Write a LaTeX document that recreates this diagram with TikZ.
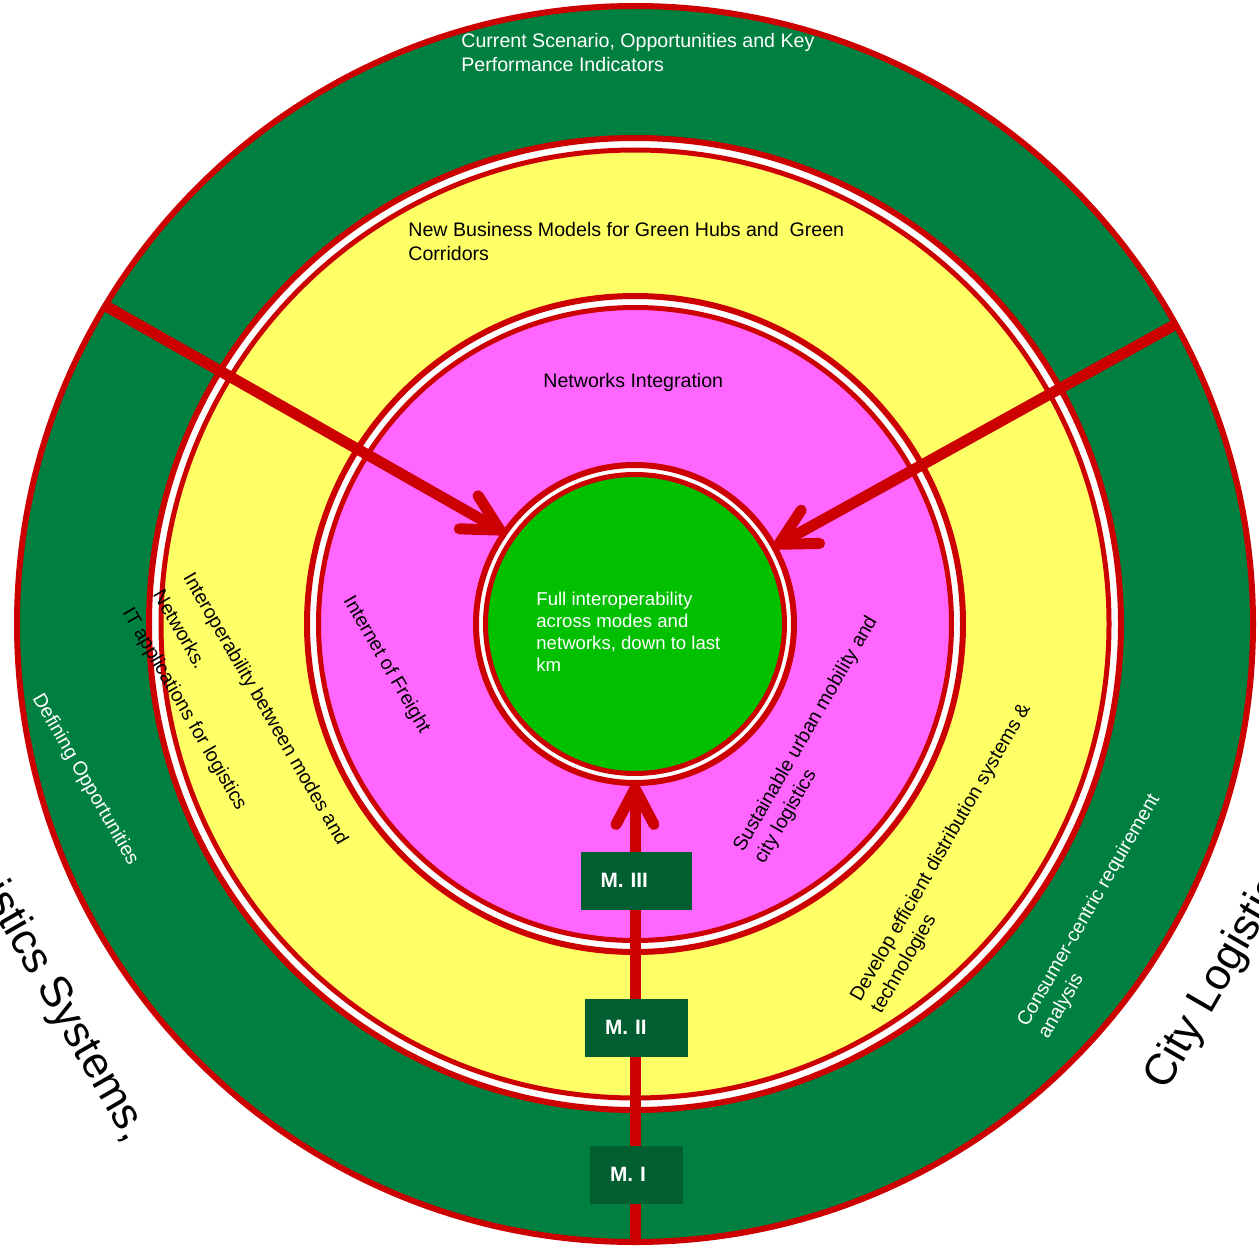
\documentclass[tikz,border=0pt]{standalone}
\usepackage{fontspec}
\setmainfont{Liberation Sans}
\usetikzlibrary{positioning, arrows.meta, calc}

\definecolor{ringred}{RGB}{204,0,0}
\definecolor{outergreen}{RGB}{0,128,64}
\definecolor{hubyellow}{RGB}{255,255,102}
\definecolor{netpink}{RGB}{255,102,255}
\definecolor{coregreen}{RGB}{0,192,0}
\definecolor{boxgreen}{RGB}{0,94,48}

\begin{document}
\begin{tikzpicture}[ x = 0.5pt, y = -0.5pt
                   , >={Straight Barb[length=18pt, width=19pt, round]}
                   , ring/.style = { circle, draw = ringred, inner sep = 0pt, outer sep = 0pt }
                   , rim/.style = { ring, line width = 3pt, fill = white }
                   , disc/.style = { ring, line width = 2.5pt }
                   , txt/.style = { inner sep = 0pt, align = left
                                  , font = \fontsize{9.8}{12}\selectfont }
                   , big/.style = { inner sep = 0pt, font = \fontsize{22}{26}\selectfont }
                   , flow/.style = { ->, draw = ringred, line width = 5.5pt }
                   , mlabel/.style = { fill = boxgreen, text = white, align = left
                                     , inner xsep = 10pt, inner ysep = 0pt
                                     , minimum height = 29pt
                                     , font = \fontsize{10.4}{12}\selectfont\bfseries }
                   ]

  \useasboundingbox (0,0) rectangle (1259,1247);
  \clip (0,0) rectangle (1259,1247);
  \fill[white] (0,0) rectangle (1259,1247);

  \node (outer) [ring, line width = 3pt, fill = outergreen, minimum size = 618pt] at (635,624) {};
  \node (hubsrim) [rim, minimum size = 486pt] at (outer.center) {};
  \node (hubs) [disc, fill = hubyellow, minimum size = 474pt] at (outer.center) {};
  \node (netrim) [rim, minimum size = 328pt] at (outer.center) {};
  \node (net) [disc, fill = netpink, minimum size = 316.5pt] at (outer.center) {};
  \node (corerim) [rim, minimum size = 159pt] at (outer.center) {};
  \node (core) [disc, fill = coregreen, minimum size = 149.5pt] at (outer.center) {};

  \node (scenario) [txt, text = white, anchor = base west] at (461,72)
    {Current Scenario, Opportunities and Key\\Performance Indicators};
  \node (models) [txt, anchor = base west] at (408,260)
    {New Business Models for Green Hubs and\ \ Green\\Corridors};
  \node (integration) [txt, anchor = base west] at (543,387) {Networks Integration};
  \node (interop) [txt, text = white, anchor = base west, font = \fontsize{9.3}{11}\selectfont] at (536,671)
    {Full interoperability\\across modes and\\networks, down to last\\km};

  \node (defining) [txt, text = white, rotate = -60, anchor = base west] at (32,698) {Defining Opportunities};
  \node (modes) [txt, rotate = -60, anchor = base west, font = \fontsize{9.8}{17.5}\selectfont] at (122,612)
    {Interoperability between modes and\\Networks.\\IT applications for logistics};
  \node (freight) [txt, rotate = -60, anchor = base west] at (343,600) {Internet of Freight};
  \node (urban) [txt, rotate = 60, anchor = base west] at (764,865)
    {Sustainable urban mobility and\\city logistics};
  \node (distribution) [txt, rotate = 60, anchor = base west] at (881,1015)
    {Develop efficient distribution systems \&\\technologies};
  \node (consumer) [txt, text = white, rotate = 60, anchor = base west] at (1048,1040)
    {Consumer-centric requirement\\analysis};

  \node (systems) [big, rotate = -60, anchor = base east] at (127,1144) {istics Systems,};
  \node (city) [big, rotate = 60, anchor = base west] at (1166,1092) {City Logistics};

  \draw[flow] (outer.149) -- (corerim.145);
  \draw[flow] (outer.29) -- (corerim.29);
  \draw[flow] (outer.south) -- (corerim.south);

  \node (m3) [mlabel, text width = 35.5pt] at (636,880.5) {M. III};
  \node (m2) [mlabel, text width = 31.5pt] at (636.5,1027.5) {M. II};
  \node (m1) [mlabel, text width = 26.5pt] at (636.5,1174.5) {M. I};

\end{tikzpicture}
\end{document}
